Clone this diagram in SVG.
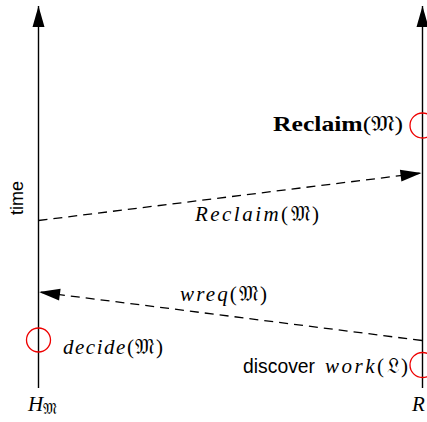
<svg xmlns="http://www.w3.org/2000/svg" width="427" height="422" viewBox="0 0 427 422">
<style>
.axis{stroke:#000;stroke-width:1.4;fill:none}
.msg{stroke:#000;stroke-width:1.3;fill:none;stroke-dasharray:9 6}
.ev{stroke:#e00;stroke-width:1.3;fill:none}
.m{font-family:"Liberation Serif","DejaVu Serif",serif;font-size:21px;fill:#000}
.i{font-style:italic}
.b{font-weight:bold}
.s{font-family:"Liberation Sans","DejaVu Sans",sans-serif;fill:#000}
</style>
<defs>
<marker id="ah" markerUnits="userSpaceOnUse" markerWidth="24" markerHeight="16" viewBox="-22 -8 24 16" refX="0" refY="0" orient="auto">
<path d="M0,0 L-21,-6 L-21,6 z" fill="#000"/>
</marker>
</defs>
<g id="process-H">
<line class="axis" x1="38.5" y1="388" x2="38.5" y2="6" marker-end="url(#ah)"/>
<text class="m" x="28" y="411"><tspan class="i">H</tspan><tspan font-size="15" dy="3">𝔐</tspan></text>
</g>
<g id="process-R">
<line class="axis" x1="422.5" y1="388" x2="422.5" y2="6" marker-end="url(#ah)"/>
<text class="m i" x="412" y="411">R</text>
</g>
<g id="time-label">
<text class="s" font-size="18" transform="translate(23,198) rotate(-90)" text-anchor="middle">time</text>
</g>
<g id="event-decide">
<circle class="ev" cx="38.5" cy="340" r="12"/>
<text class="m" x="63" y="354" textLength="100" lengthAdjust="spacing"><tspan class="i">decide</tspan>(𝔐)</text>
</g>
<g id="event-discover">
<circle class="ev" cx="422.5" cy="365" r="12.5"/>
<text class="s" font-size="20" x="243" y="373" textLength="72" lengthAdjust="spacingAndGlyphs">discover</text>
<text class="m" x="325" y="373" textLength="83" lengthAdjust="spacing"><tspan class="i">work</tspan>(𝔏)</text>
</g>
<g id="event-reclaim">
<circle class="ev" cx="422.5" cy="125.5" r="12.5"/>
<text class="m" x="273" y="131" textLength="130" lengthAdjust="spacingAndGlyphs"><tspan class="b">Reclaim</tspan>(𝔐)</text>
</g>
<g id="connectors">
<line class="msg" x1="38.5" y1="220.5" x2="421.5" y2="173" marker-end="url(#ah)"/>
<line class="msg" x1="422" y1="340.5" x2="39" y2="292" marker-end="url(#ah)"/>
<text class="m" x="195" y="221" textLength="124" lengthAdjust="spacing"><tspan class="i">Reclaim</tspan>(𝔐)</text>
<text class="m" x="180" y="301" textLength="87" lengthAdjust="spacing"><tspan class="i">wreq</tspan>(𝔐)</text>
</g>
</svg>
